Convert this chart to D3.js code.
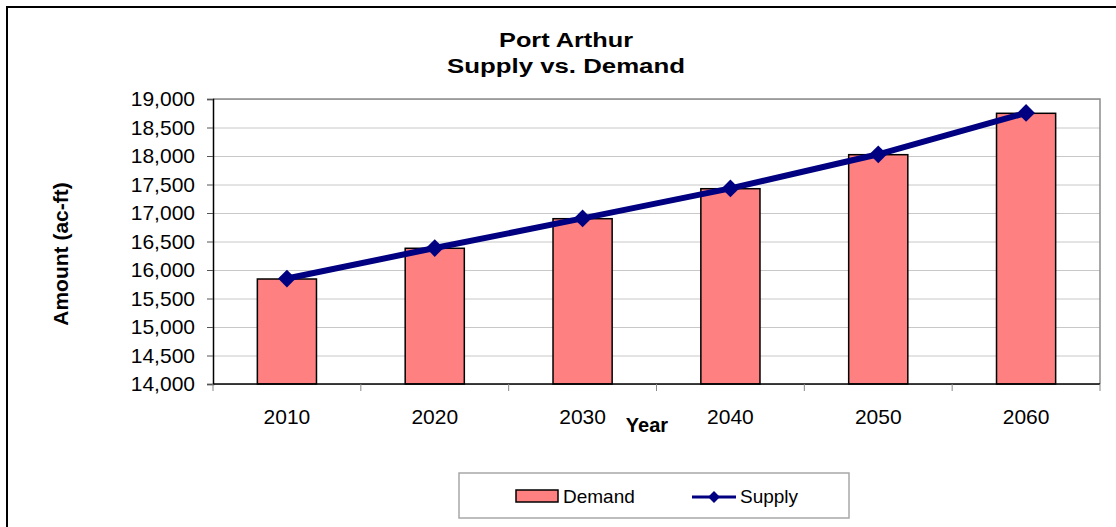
<!DOCTYPE html>
<html>
<head>
<meta charset="utf-8">
<script src="https://cdn.jsdelivr.net/npm/d3@7"></script>
<style>
  body { margin: 0; background: #fff; }
  text { font-family: "Liberation Sans", Arial, sans-serif; }
</style>
</head>
<body>
<div id="chart"></div>
<script>
// chart data
var years = ["2010", "2020", "2030", "2040", "2050", "2060"];
var demand = [15842, 16381, 16900, 17426, 18023, 18749];
var supply = [15850, 16385, 16905, 17432, 18030, 18755];
var yTicks = [14000, 14500, 15000, 15500, 16000, 16500, 17000, 17500, 18000, 18500, 19000];

var W = 1116, H = 527;
var plot = {left: 213, top: 99, right: 1100, bottom: 384};

var svg = d3.select("#chart").append("svg")
    .attr("width", W)
    .attr("height", H);

// outer chart border (runs off the right/bottom edge)
svg.append("rect")
    .attr("x", 7).attr("y", 7)
    .attr("width", 1130).attr("height", 540)
    .attr("fill", "#fff")
    .attr("stroke", "#000")
    .attr("stroke-width", 2);

// scales
var x = d3.scaleBand()
    .domain(years)
    .range([plot.left, plot.right])
    .paddingInner(0.6)
    .paddingOuter(0.3);

var y = d3.scaleLinear()
    .domain([14000, 19000])
    .range([plot.bottom, plot.top]);

// gridlines
svg.append("g")
    .attr("class", "grid")
    .attr("transform", "translate(" + plot.left + ",0)")
    .call(d3.axisLeft(y)
        .tickValues(yTicks)
        .tickSize(-(plot.right - plot.left))
        .tickFormat(""))
    .call(function(g) {
        g.select(".domain").remove();
        g.selectAll("line").attr("stroke", "#c8c8c8");
    });

// plot area border top/right
svg.append("path")
    .attr("d", "M" + plot.left + "," + plot.top + "H" + plot.right + "V" + plot.bottom)
    .attr("fill", "none")
    .attr("stroke", "#8c8c8c")
    .attr("stroke-width", 1.5);

// bars
svg.selectAll(".bar")
    .data(demand)
    .enter().append("rect")
    .attr("class", "bar")
    .attr("x", function(d, i) { return x(years[i]); })
    .attr("y", function(d) { return y(d); })
    .attr("width", x.bandwidth())
    .attr("height", function(d) { return y(14000) - y(d); })
    .attr("fill", "#ff8080")
    .attr("stroke", "#000")
    .attr("stroke-width", 1.5);

// y axis
svg.append("g")
    .attr("transform", "translate(" + plot.left + ",0)")
    .call(d3.axisLeft(y)
        .tickValues(yTicks)
        .tickSize(6)
        .tickPadding(12)
        .tickFormat(d3.format(",")))
    .call(function(g) {
        g.select(".domain").attr("stroke", "#000").attr("stroke-width", 1.5);
        g.selectAll("line").attr("stroke", "#555");
        g.selectAll("text")
            .attr("fill", "#000")
            .style("font-size", "21px")
            .style("font-family", "'Liberation Sans', Arial, sans-serif");
    });

// x axis line
svg.append("line")
    .attr("x1", plot.left).attr("x2", plot.right)
    .attr("y1", y(14000)).attr("y2", y(14000))
    .attr("stroke", "#000")
    .attr("stroke-width", 1.5);

// x tick marks at category boundaries
var bounds = d3.range(years.length + 1).map(function(i) {
    return x.range()[0] + i * x.step();
});
svg.selectAll(".xtick")
    .data(bounds)
    .enter().append("line")
    .attr("class", "xtick")
    .attr("x1", function(d) { return d; })
    .attr("x2", function(d) { return d; })
    .attr("y1", y(14000))
    .attr("y2", y(14000) + 7)
    .attr("stroke", "#888");

// x labels
svg.selectAll(".xlabel")
    .data(years)
    .enter().append("text")
    .attr("class", "xlabel")
    .attr("x", function(d) { return x(d) + x.bandwidth() / 2; })
    .attr("y", 424)
    .attr("text-anchor", "middle")
    .style("font-size", "21px")
    .text(function(d) { return d; });

// supply line
var line = d3.line()
    .x(function(d, i) { return x(years[i]) + x.bandwidth() / 2; })
    .y(function(d) { return y(d); });

svg.append("path")
    .datum(supply)
    .attr("d", line)
    .attr("fill", "none")
    .attr("stroke", "#000080")
    .attr("stroke-width", 6);

var diamond = d3.symbol().type(d3.symbolDiamond2).size(200);
svg.selectAll(".marker")
    .data(supply)
    .enter().append("path")
    .attr("class", "marker")
    .attr("d", diamond)
    .attr("transform", function(d, i) {
        return "translate(" + (x(years[i]) + x.bandwidth() / 2) + "," + y(d) + ")";
    })
    .attr("fill", "#000080");

// titles
svg.append("text")
    .attr("x", 566).attr("y", 47)
    .attr("text-anchor", "middle")
    .attr("textLength", 134)
    .attr("lengthAdjust", "spacingAndGlyphs")
    .style("font-size", "20px")
    .style("font-weight", "bold")
    .text("Port Arthur");
svg.append("text")
    .attr("x", 566).attr("y", 73)
    .attr("text-anchor", "middle")
    .attr("textLength", 238)
    .attr("lengthAdjust", "spacingAndGlyphs")
    .style("font-size", "20px")
    .style("font-weight", "bold")
    .text("Supply vs. Demand");

// axis titles
svg.append("text")
    .attr("transform", "translate(68,254) rotate(-90)")
    .attr("text-anchor", "middle")
    .style("font-size", "21px")
    .style("font-weight", "bold")
    .text("Amount (ac-ft)");

svg.append("text")
    .attr("x", 647).attr("y", 432)
    .attr("text-anchor", "middle")
    .style("font-size", "20px")
    .style("font-weight", "bold")
    .text("Year");

// legend
var legend = svg.append("g");
legend.append("rect")
    .attr("x", 459).attr("y", 473)
    .attr("width", 390).attr("height", 45)
    .attr("fill", "#fff")
    .attr("stroke", "#a8a8a8")
    .attr("stroke-width", 1.5);
legend.append("rect")
    .attr("x", 516).attr("y", 490)
    .attr("width", 42).attr("height", 12)
    .attr("fill", "#ff8080")
    .attr("stroke", "#000")
    .attr("stroke-width", 1.5);
legend.append("text")
    .attr("x", 563).attr("y", 503)
    .style("font-size", "19px")
    .text("Demand");
legend.append("line")
    .attr("x1", 692).attr("x2", 736)
    .attr("y1", 497).attr("y2", 497)
    .attr("stroke", "#000080")
    .attr("stroke-width", 3);
legend.append("path")
    .attr("d", d3.symbol().type(d3.symbolDiamond2).size(90))
    .attr("transform", "translate(714,497)")
    .attr("fill", "#000080");
legend.append("text")
    .attr("x", 740).attr("y", 503)
    .style("font-size", "19px")
    .text("Supply");
</script>
</body>
</html>
